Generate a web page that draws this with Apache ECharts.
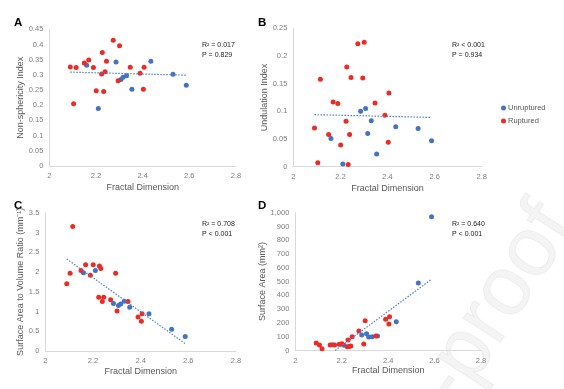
<!DOCTYPE html>
<html><head><meta charset="utf-8">
<script src="https://cdn.jsdelivr.net/npm/echarts@6/dist/echarts.min.js"></script>
<style>html,body{margin:0;padding:0;background:#fff}#c{width:564px;height:389px}</style>
</head><body><div id="c"></div>
<script>
// Fractal dimension (x) for each group
const fdRuptured   = [2.090, 2.104, 2.115, 2.150, 2.169, 2.189, 2.201, 2.224, 2.227, 2.233, 2.239, 2.245, 2.274, 2.295, 2.301, 2.347, 2.389, 2.403, 2.406];
const fdUnruptured = [2.160, 2.210, 2.286, 2.307, 2.316, 2.331, 2.354, 2.435, 2.530, 2.587];

// Panel A: Non-sphericity Index
const nsiRuptured   = [0.326, 0.205, 0.324, 0.339, 0.349, 0.324, 0.248, 0.303, 0.374, 0.245, 0.310, 0.345, 0.414, 0.281, 0.396, 0.325, 0.305, 0.253, 0.325];
const nsiUnruptured = [0.332, 0.189, 0.342, 0.285, 0.292, 0.297, 0.253, 0.345, 0.302, 0.266];
// Panel B: Undulation Index
const uiRuptured   = [0.070, 0.007, 0.158, 0.058, 0.117, 0.114, 0.039, 0.082, 0.180, 0.004, 0.058, 0.161, 0.222, 0.160, 0.225, 0.115, 0.093, 0.044, 0.133];
const uiUnruptured = [0.051, 0.005, 0.100, 0.105, 0.060, 0.083, 0.023, 0.072, 0.069, 0.047];
// Panel C: Surface area to volume ratio (mm^-1)
const svRuptured   = [1.70, 1.97, 3.15, 2.04, 2.18, 1.92, 2.18, 1.36, 2.15, 2.09, 1.25, 1.36, 1.30, 1.97, 1.01, 1.25, 0.86, 0.75, 0.94];
const svUnruptured = [1.98, 2.04, 1.20, 1.15, 1.19, 1.26, 1.11, 0.94, 0.55, 0.37];
// Panel D: Surface area (mm^2)
const saRuptured   = [54, 40, 13, 40, 40, 45, 49, 28, 76, 29, 33, 100, 141, 47, 216, 105, 226, 192, 245];
const saUnruptured = [42, 38, 112, 122, 98, 100, 105, 209, 489, 970];

// Trendline end points
const trendA = [[2.090, 0.309], [2.586, 0.299]];
const trendB = [[2.090, 0.094], [2.586, 0.089]];
const trendC = [[2.090, 2.33], [2.586, 0.19]];
const trendD = [[2.172, 0], [2.586, 516]];

// Axis settings / labels
const xTicks = {min: 2, max: 2.8, interval: 0.2};
const yTicksA = {min: 0, max: 0.45, interval: 0.05};
const yTicksB = {min: 0, max: 0.25, interval: 0.05};
const yTicksC = {min: 0, max: 3.5, interval: 0.5};
const yTicksD = {min: 0, max: 1000, interval: 100};
const panelLetters = ['A', 'B', 'C', 'D'];
const xTitle = 'Fractal Dimension';
const yTitles = ['Non-sphericity Index', 'Undulation Index', 'Surface Area to Volume Ratio (mm\u207B\u00B9)', 'Surface Area (mm\u00B2)'];
const stats = [['R\u00B2 = 0.017', 'P = 0.829'], ['R\u00B2 < 0.001', 'P = 0.934'], ['R\u00B2 = 0.708', 'P < 0.001'], ['R\u00B2 = 0.640', 'P < 0.001']];
const groupNames = ['Unruptured', 'Ruptured'];
const watermarkText = 'Journal Pre-proof';

const FONT = "'Liberation Sans', Arial, sans-serif";
const BLUE = '#4472C4';
const RED = '#EE2A24';
const TREND = '#4A80CC';

const chart = echarts.init(document.getElementById('c'), null, {renderer: 'canvas'});

const grids = [
  {left: 49.3, top: 29.3, width: 186.7, height: 136.7},
  {left: 293.3, top: 28.3, width: 188.4, height: 138.4},
  {left: 45.3, top: 212.7, width: 190.7, height: 138.3},
  {left: 295.3, top: 212.7, width: 185.7, height: 137.8}
];
const yTicks = [yTicksA, yTicksB, yTicksC, yTicksD];
const yNameGaps = [23, 24, 20, 23];
const xNameGaps = [17, 17, 16, 16];

const zip = (xs, ys) => xs.map((x, i) => [x, ys[i]]);
const rupturedData = [nsiRuptured, uiRuptured, svRuptured, saRuptured];
const unrupturedData = [nsiUnruptured, uiUnruptured, svUnruptured, saUnruptured];
const trends = [trendA, trendB, trendC, trendD];

const axisLine = {show: true, lineStyle: {color: '#d9d9d9', width: 1}};
const tickLabel = {color: '#808080', fontSize: 7.5, fontFamily: FONT};

const xAxis = grids.map((g, i) => ({
  type: 'value', gridIndex: i, min: xTicks.min, max: xTicks.max, interval: xTicks.interval,
  axisLine: axisLine, axisTick: {show: false}, splitLine: {show: false},
  axisLabel: Object.assign({margin: 6}, tickLabel),
  name: xTitle, nameLocation: 'middle', nameGap: xNameGaps[i],
  nameTextStyle: {color: '#595959', fontSize: 9, fontFamily: FONT}
}));
const yAxis = grids.map((g, i) => ({
  type: 'value', gridIndex: i, min: yTicks[i].min, max: yTicks[i].max, interval: yTicks[i].interval,
  axisLine: axisLine, axisTick: {show: false}, splitLine: {show: false},
  axisLabel: Object.assign({margin: 6}, tickLabel),
  name: yTitles[i], nameLocation: 'middle', nameGap: yNameGaps[i], nameRotate: 90,
  nameTextStyle: {color: '#595959', fontSize: 9, fontFamily: FONT}
}));

const series = [];
grids.forEach((g, i) => {
  series.push({
    name: groupNames[0], type: 'scatter', xAxisIndex: i, yAxisIndex: i,
    data: zip(fdUnruptured, unrupturedData[i]), symbolSize: 5,
    itemStyle: {color: BLUE, opacity: 1}
  });
  series.push({
    name: groupNames[1], type: 'scatter', xAxisIndex: i, yAxisIndex: i,
    data: zip(fdRuptured, rupturedData[i]), symbolSize: 5,
    itemStyle: {color: RED, opacity: 1}
  });
  series.push({
    name: 'trend' + i, type: 'line', xAxisIndex: i, yAxisIndex: i,
    data: trends[i], showSymbol: false, symbol: 'none', silent: true,
    lineStyle: {color: TREND, width: 1.2, type: [1.5, 1.5]}, z: 3
  });
});

const graphic = [];
const letterPos = [[14, 17], [258, 17], [14, 200], [258, 200]];
panelLetters.forEach((t, i) => {
  graphic.push({type: 'text', left: letterPos[i][0], top: letterPos[i][1],
    style: {text: t, fontSize: 11.5, fontWeight: 'bold', fontFamily: FONT, fill: '#000'}});
});
const statPos = [[202, 40], [452, 40], [202, 219], [452, 219]];
stats.forEach((s, i) => {
  graphic.push({type: 'text', left: statPos[i][0], top: statPos[i][1],
    style: {text: s.join('\n'), fontSize: 7, lineHeight: 10, fontFamily: FONT, fill: '#222'}});
});
// watermark
graphic.push({type: 'text', x: 592, y: 236, rotation: 57 * Math.PI / 180, z: -10,
  style: {text: watermarkText, fontSize: 84, fontFamily: FONT, align: 'right', verticalAlign: 'bottom',
    fill: 'rgba(0,0,0,0.045)', stroke: 'rgba(0,0,0,0.05)', lineWidth: 1}});

chart.setOption({
  animation: false,
  backgroundColor: '#fff',
  grid: grids,
  xAxis: xAxis,
  yAxis: yAxis,
  legend: {
    data: groupNames, orient: 'vertical', left: 496, top: 99,
    itemWidth: 5, itemHeight: 5, itemGap: 5, icon: 'circle',
    textStyle: {color: '#595959', fontSize: 7.5, fontFamily: FONT, padding: [0, 0, 0, -3]}
  },
  series: series,
  graphic: graphic
});
</script></body></html>
